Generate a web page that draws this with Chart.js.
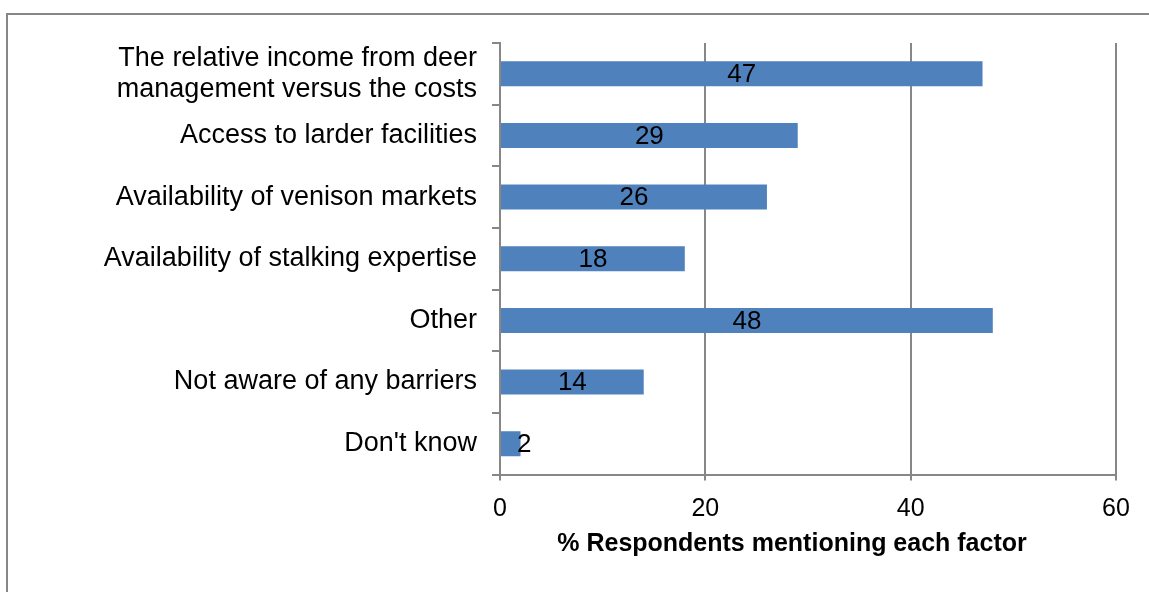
<!DOCTYPE html>
<html>
<head>
<meta charset="utf-8">
<script src="https://cdn.jsdelivr.net/npm/chart.js@4"></script>
<style>
  html, body { margin: 0; padding: 0; background: #fff; }
  #wrap { position: relative; width: 1149px; height: 592px; }
</style>
</head>
<body>
<div id="wrap"><canvas id="myChart"></canvas></div>
<script>
// barriers to deer management, % of respondents
var factors = [
  ["The relative income from deer", "management versus the costs"],
  "Access to larder facilities",
  "Availability of venison markets",
  "Availability of stalking expertise",
  "Other",
  "Not aware of any barriers",
  "Don't know",
];
var percents = [47, 29, 26, 18, 48, 14, 2];
var xTicks = [0, 20, 40, 60];
var xTitle = "% Respondents mentioning each factor";

var FONT = "'Liberation Sans', Arial, sans-serif";
var GREY = "#878787";

// frame round the whole chart
var framePlugin = {
  id: "frame",
  beforeDraw(chart) {
    var ctx = chart.ctx;
    ctx.save();
    ctx.strokeStyle = GREY;
    ctx.lineWidth = 2;
    ctx.strokeRect(7, 14, chart.width + 20, chart.height + 20);
    ctx.restore();
  },
};

// value written in the middle of each bar
var valueLabels = {
  id: "valueLabels",
  afterDatasetsDraw(chart) {
    var ctx = chart.ctx;
    var meta = chart.getDatasetMeta(0);
    ctx.save();
    ctx.font = "26px " + FONT;
    ctx.fillStyle = "#000";
    ctx.textAlign = "center";
    ctx.textBaseline = "middle";
    meta.data.forEach(function (bar, i) {
      var v = chart.data.datasets[0].data[i];
      var w = ctx.measureText(String(v)).width;
      var x = Math.max((bar.x + bar.base) / 2, bar.base + w / 2 + 16);
      ctx.fillText(String(v), x, bar.y + 1);
    });
    ctx.restore();
  },
};

// x axis title, sits a little left of the plot centre
var axisTitle = {
  id: "axisTitle",
  afterDraw(chart) {
    var ctx = chart.ctx;
    var xs = chart.scales.x;
    ctx.save();
    ctx.font = "bold 25px " + FONT;
    ctx.fillStyle = "#000";
    ctx.textAlign = "center";
    ctx.textBaseline = "middle";
    ctx.fillText(xTitle, (xs.left + xs.right) / 2 - 16, xs.top + 70);
    ctx.restore();
  },
};

new Chart("myChart", {
  type: "bar",
  data: {
    labels: factors,
    datasets: [
      {
        data: percents,
        backgroundColor: "#4F81BD",
        borderWidth: 0,
        barPercentage: 0.405,
        categoryPercentage: 1,
      },
    ],
  },
  options: {
    indexAxis: "y",
    responsive: true,
    maintainAspectRatio: false,
    animation: false,
    layout: { padding: { top: 43, right: 33, left: 0, bottom: 0 } },
    plugins: {
      legend: { display: false },
      tooltip: { enabled: false },
    },
    scales: {
      x: {
        min: 0,
        max: 60,
        afterBuildTicks(scale) {
          scale.ticks = xTicks.map(function (v) { return { value: v }; });
        },
        afterFit(scale) { scale.height = 117.5; },
        grid: {
          color: GREY,
          lineWidth: 2,
          tickLength: 6,
          drawTicks: true,
        },
        border: { display: true, color: GREY, width: 2 },
        ticks: {
          color: "#000",
          padding: 14,
          font: { family: FONT, size: 25 },
        },
        title: { display: false },
      },
      y: {
        afterFit(scale) { scale.width = 500; },
        grid: {
          drawOnChartArea: false,
          color: GREY,
          lineWidth: 2,
          tickLength: 8,
          offset: true,
        },
        border: { display: true, color: GREY, width: 2 },
        ticks: {
          autoSkip: false,
          color: "#000",
          padding: 15,
          font: { family: FONT, size: 27, lineHeight: 1.15 },
        },
      },
    },
  },
  plugins: [framePlugin, valueLabels, axisTitle],
});
</script>
</body>
</html>
